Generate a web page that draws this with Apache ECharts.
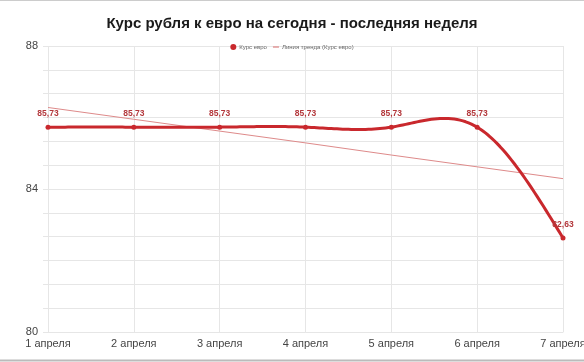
<!DOCTYPE html>
<html><head><meta charset="utf-8">
<script src="https://cdn.jsdelivr.net/npm/echarts@6/dist/echarts.min.js"></script>
<style>html,body{margin:0;padding:0;background:#fff;}#c{width:584px;height:362px;}</style>
</head><body><div id="c"></div>
<script>
const categories = ['1 апреля','2 апреля','3 апреля','4 апреля','5 апреля','6 апреля','7 апреля'];
const rateValues = [85.73, 85.73, 85.73, 85.73, 85.73, 85.73, 82.63];
const trendValues = [86.28, 85.95, 85.62, 85.29, 84.95, 84.62, 84.29];
const yTicks = [80, 84, 88];
const titleText = 'Курс рубля к евро на сегодня - последняя неделя';
const seriesNames = ['Курс евро', 'Линия тренда (Курс евро)'];

const mainColor = '#c9282d';
const trendColor = '#de8a8a';
const grey = '#e6e6e6';

// natural cubic spline through pixel points (uniform parameter)
function splinePath(pts, steps) {
  const n = pts.length;
  const ys = pts.map(p => p[1]);
  const M = new Array(n).fill(0);
  if (n > 2) {
    const a = [], b = [], c = [], d = [];
    for (let i = 1; i < n - 1; i++) {
      a.push(1); b.push(4); c.push(1); d.push(6 * (ys[i + 1] - 2 * ys[i] + ys[i - 1]));
    }
    const m = b.length;
    for (let i = 1; i < m; i++) {
      const w = a[i] / b[i - 1];
      b[i] -= w * c[i - 1];
      d[i] -= w * d[i - 1];
    }
    const sol = new Array(m);
    sol[m - 1] = d[m - 1] / b[m - 1];
    for (let i = m - 2; i >= 0; i--) sol[i] = (d[i] - c[i] * sol[i + 1]) / b[i];
    for (let i = 0; i < m; i++) M[i + 1] = sol[i];
  }
  const out = [];
  for (let i = 0; i < n - 1; i++) {
    for (let s = 0; s <= steps; s++) {
      if (i > 0 && s === 0) continue;
      const t = s / steps, u = 1 - t;
      const y = M[i] * (u * u * u - u) / 6 + M[i + 1] * (t * t * t - t) / 6 + ys[i] * u + ys[i + 1] * t;
      const x = pts[i][0] * u + pts[i + 1][0] * t;
      out.push([x, y]);
    }
  }
  return out;
}

const chart = echarts.init(document.getElementById('c'), null, {renderer:'canvas'});
chart.setOption({
  animation:false,
  backgroundColor:'#fff',
  title:{text:titleText,left:'center',top:11,textStyle:{fontFamily:'Liberation Sans, Arial',fontSize:15,fontWeight:'bold',color:'#1a1a1a'}},
  legend:{top:39,left:'center',itemWidth:6,itemHeight:6,itemGap:6,textStyle:{fontSize:6,color:'#666',fontFamily:'Liberation Sans, Arial',padding:[0,0,0,-2]},
    data:[
      {name:seriesNames[0],icon:'circle',itemStyle:{color:mainColor}},
      {name:seriesNames[1],icon:'path://M0,0h10v2.2h-10z',itemStyle:{color:trendColor}}
    ]},
  grid:{left:48,right:21,top:46,bottom:30,containLabel:false,outerBoundsMode:'none'},
  xAxis:{type:'category',data:categories,boundaryGap:false,
    axisLine:{show:true,lineStyle:{color:grey}},axisTick:{show:false},
    axisLabel:{color:'#444',fontSize:11,fontFamily:'Liberation Sans, Arial',margin:6},
    splitLine:{show:true,lineStyle:{color:grey}}},
  yAxis:{type:'value',min:yTicks[0],max:yTicks[yTicks.length-1],interval:4,
    axisLine:{show:false},axisTick:{show:true,length:5,lineStyle:{color:grey}},
    minorTick:{show:true,splitNumber:6,length:5,lineStyle:{color:grey}},
    minorSplitLine:{show:true,lineStyle:{color:grey}},
    axisLabel:{color:'#444',fontSize:11,fontFamily:'Liberation Sans, Arial',margin:10},
    splitLine:{show:true,lineStyle:{color:grey}}},
  series:[
    {name:seriesNames[1],type:'line',data:trendValues,symbol:'none',color:trendColor,
      itemStyle:{color:trendColor},lineStyle:{width:1,color:trendColor},z:2},
    {name:seriesNames[0],type:'custom',data:rateValues.map((v,i)=>[i,v]),encode:{x:0,y:1},z:3,
      silent:true,color:mainColor,itemStyle:{color:mainColor},
      renderItem:function(params, api){
        if (params.dataIndex !== 0) return null;
        const pts = rateValues.map((v,i)=>api.coord([i,v]));
        return {type:'polyline',shape:{points:splinePath(pts,30)},
          style:{stroke:mainColor,lineWidth:3,fill:null,lineJoin:'round'}};
      }},
    {name:seriesNames[0],type:'line',data:rateValues,
      symbol:'circle',symbolSize:5,color:mainColor,
      lineStyle:{width:0,opacity:0},itemStyle:{color:mainColor},
      label:{show:true,position:'top',distance:6,color:'#b3373b',fontSize:8.5,fontWeight:'bold',fontFamily:'Liberation Sans, Arial',
        formatter:p=>p.value.toFixed(2).replace('.',',')},z:4}
  ],
  graphic:[
    {type:'line',shape:{x1:0,y1:0.5,x2:584,y2:0.5},style:{stroke:'#ccc',lineWidth:1}},
    {type:'line',shape:{x1:0,y1:360.5,x2:584,y2:360.5},style:{stroke:'#bbb',lineWidth:2}}
  ]
});
</script></body></html>
